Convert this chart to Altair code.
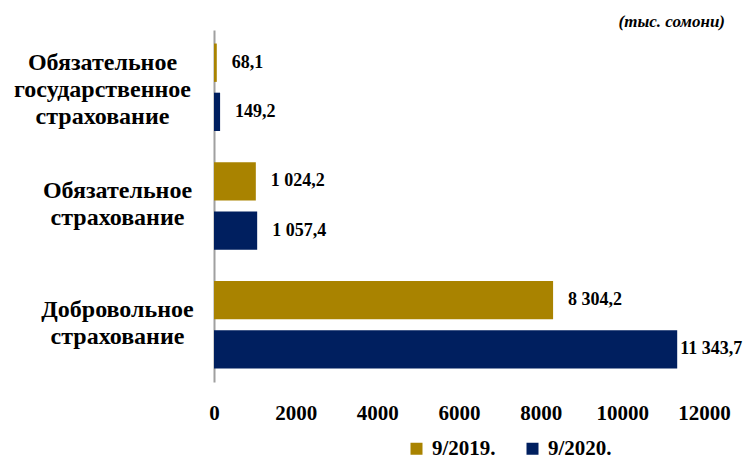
import altair as alt
import pandas as pd

categories = [
    "Обязательное|государственное|страхование",
    "Обязательное|страхование",
    "Добровольное|страхование",
]
periods = ["9/2019.", "9/2020."]
values_2019 = [68.1, 1024.2, 8304.2]
values_2020 = [149.2, 1057.4, 11343.7]
x_ticks = [0, 2000, 4000, 6000, 8000, 10000, 12000]
colors = ["#A98300", "#001F5F"]
unit_title = "(тыс. сомони)"

FONT = "Liberation Serif"


def fmt(v):
    s = f"{v:,.1f}"
    return s.replace(",", " ").replace(".", ",")


rows = []
for c, a, b in zip(categories, values_2019, values_2020):
    rows.append({"category": c, "period": periods[0], "value": a, "label": fmt(a)})
    rows.append({"category": c, "period": periods[1], "value": b, "label": fmt(b)})
df = pd.DataFrame(rows)

three_lines = "length(split(datum.value, '|')) > 2"

y_enc = alt.Y(
    "category:N",
    sort=categories,
    scale=alt.Scale(paddingInner=0.263, paddingOuter=0.114),
    axis=alt.Axis(
        title=None,
        labelExpr="split(datum.label, '|')",
        labelAlign="center",
        labelBaseline="middle",
        labelPadding={"condition": {"test": three_lines, "value": 112}, "value": 97},
        labelOffset={"condition": {"test": three_lines, "value": -24}, "value": -15},
        ticks=False,
        tickSize=0,
        labelFontSize=24,
        labelFont=FONT,
        labelFontWeight="bold",
        labelColor="#000000",
        labelLineHeight=27,
        domainColor="#A0A0A0",
        domainWidth=2,
        grid=False,
    ),
)
yoff_enc = alt.YOffset(
    "period:N", sort=periods, scale=alt.Scale(paddingInner=0.22, paddingOuter=0)
)
x_enc = alt.X(
    "value:Q",
    scale=alt.Scale(domain=[0, 12000], nice=False),
    axis=alt.Axis(
        values=x_ticks,
        title=None,
        grid=False,
        domain=False,
        ticks=False,
        labelPadding=20,
        labelFontSize=21,
        labelFont=FONT,
        labelFontWeight="bold",
        labelColor="#000000",
        labelFlush=False,
        labelOverlap=False,
        format="d",
    ),
)

base = alt.Chart(df)

bars = base.mark_bar().encode(
    x=x_enc,
    y=y_enc,
    yOffset=yoff_enc,
    color=alt.Color(
        "period:N",
        scale=alt.Scale(domain=periods, range=colors),
        legend=alt.Legend(
            title=None,
            orient="none",
            legendX=192,
            legendY=408,
            direction="horizontal",
            symbolType="square",
            symbolSize=144,
            symbolStrokeWidth=0,
            labelFontSize=21,
            labelFont=FONT,
            labelFontWeight="bold",
            labelColor="#000000",
            columnPadding=26,
            labelOffset=5,
        ),
    ),
)

text_style = dict(
    align="left", baseline="middle", font=FONT, fontSize=18, fontWeight="bold", color="#000000"
)
y_plain = alt.Y("category:N", sort=categories)
yoff_plain = alt.YOffset("period:N", sort=periods)
labels_a = (
    base.transform_filter(alt.datum.value < 10000)
    .mark_text(dx=15, **text_style)
    .encode(x="value:Q", y=y_plain, yOffset=yoff_plain, text="label:N")
)
labels_b = (
    base.transform_filter(alt.datum.value >= 10000)
    .mark_text(dx=3, **text_style)
    .encode(x="value:Q", y=y_plain, yOffset=yoff_plain, text="label:N")
)

chart = (
    alt.layer(bars, labels_a, labels_b)
    .properties(
        width=490,
        height=352,
        padding={"left": 206, "top": 22, "right": 41, "bottom": 78},
        autosize=alt.AutoSizeParams(type="none"),
        title=alt.TitleParams(
            unit_title,
            anchor="end",
            frame="group",
            fontSize=17,
            font=FONT,
            fontStyle="italic",
            fontWeight="bold",
            color="#000000",
            dx=21,
            dy=2,
            offset=1,
        ),
    )
    .configure_view(stroke=None)
)

chart.save("out.html", embed_options={"renderer": "svg", "actions": False})
